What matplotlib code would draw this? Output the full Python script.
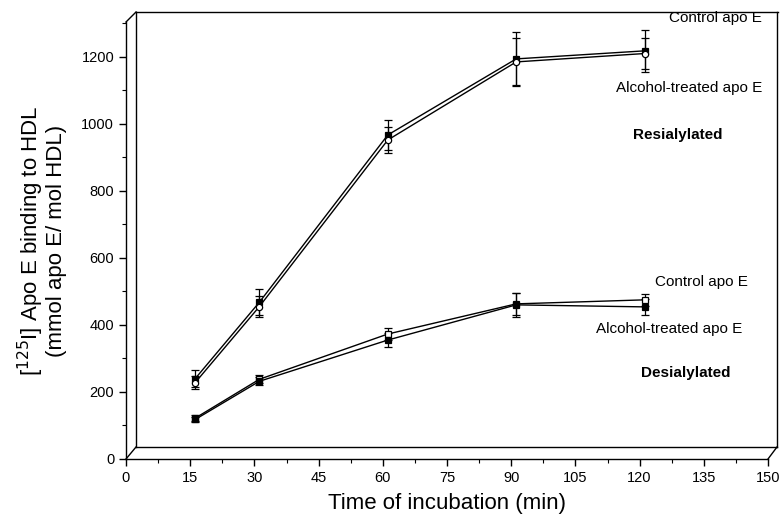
import matplotlib
matplotlib.use("Agg")
import matplotlib.pyplot as plt
import matplotlib.transforms as mtrans
from matplotlib.ticker import MultipleLocator

plt.rcParams.update({
    "font.family": ["Liberation Sans", "DejaVu Sans"],
    "font.size": 10,
    "axes.linewidth": 1.0,
})

# time of incubation (min)
times = [15, 30, 60, 90, 120]

# resialylated apo E binding (mmol apo E / mol HDL)
res_control = [225, 453, 952, 1179, 1203]
res_control_err = [25, 38, 45, 80, 62]
res_alcohol = [213, 440, 937, 1170, 1195]
res_alcohol_err = [20, 30, 40, 70, 45]

# desialylated apo E binding
des_control = [107, 223, 358, 448, 460]
des_control_err = [8, 12, 18, 32, 18]
des_alcohol = [103, 217, 340, 445, 439]
des_alcohol_err = [8, 12, 20, 35, 25]

fig = plt.figure(figsize=(7.82, 5.21), dpi=100)
ax = fig.add_axes([126 / 782, 62 / 521, 642 / 782, 437 / 521])

# data sits a little "behind" the front axis plane (pseudo-3D frame)
depth = mtrans.offset_copy(ax.transData, fig=fig, x=5, y=5, units="dots")

series = [
    (res_control, res_control_err, "s", "black"),
    (res_alcohol, res_alcohol_err, "o", "white"),
    (des_control, des_control_err, "s", "white"),
    (des_alcohol, des_alcohol_err, "s", "black"),
]
for vals, err, mk, face in series:
    ax.errorbar(times, vals, yerr=err, fmt="-", color="black", lw=1.0,
                marker=mk, markersize=4.5, markerfacecolor=face,
                markeredgecolor="black", markeredgewidth=0.9,
                ecolor="black", elinewidth=0.9, capsize=3, capthick=0.9,
                transform=depth, clip_on=False)

ax.set_xlim(0, 150)
ax.set_ylim(0, 1304)
ax.xaxis.set_major_locator(MultipleLocator(15))
ax.xaxis.set_minor_locator(MultipleLocator(7.5))
ax.yaxis.set_major_locator(MultipleLocator(200))
ax.yaxis.set_minor_locator(MultipleLocator(100))
ax.tick_params(which="major", direction="out", length=5, width=1, labelsize=10.5)
ax.tick_params(which="minor", direction="out", length=3, width=0.8)
ax.spines["top"].set_visible(False)
ax.spines["right"].set_visible(False)

# back panel of the box
dx, dy = 10 / 642, 12 / 437
rx, ty = 1 + 9 / 642, 1 + 10 / 437
frame = [
    ([0, dx], [0, dy]),
    ([0, dx], [1, ty]),
    ([1, rx], [0, dy]),
    ([dx, dx], [dy, ty]),
    ([dx, rx], [dy, dy]),
    ([dx, rx + 0.002], [ty, ty]),
    ([rx, rx], [dy, ty]),
]
for xs, ys in frame:
    ax.plot(xs, ys, color="black", lw=1.0, transform=ax.transAxes, clip_on=False)

ax.set_xlabel("Time of incubation (min)", fontsize=16, labelpad=6)
ax.set_ylabel("[$^{125}$I] Apo E binding to HDL\n(mmol apo E/ mol HDL)",
              fontsize=16, labelpad=10, linespacing=1.0)

tkw = dict(fontsize=11, ha="right", va="center", transform=fig.transFigure)
fig.text(762 / 782, 1 - 18 / 521, "Control apo E", **tkw)
fig.text(762 / 782, 1 - 88 / 521, "Alcohol-treated apo E", **tkw)
fig.text(722 / 782, 1 - 135 / 521, "Resialylated", fontweight="bold", **tkw)
fig.text(748 / 782, 1 - 282 / 521, "Control apo E", **tkw)
fig.text(742 / 782, 1 - 329 / 521, "Alcohol-treated apo E", **tkw)
fig.text(730 / 782, 1 - 373 / 521, "Desialylated", fontweight="bold", **tkw)

fig.savefig("out.png", dpi=100, facecolor="white")
